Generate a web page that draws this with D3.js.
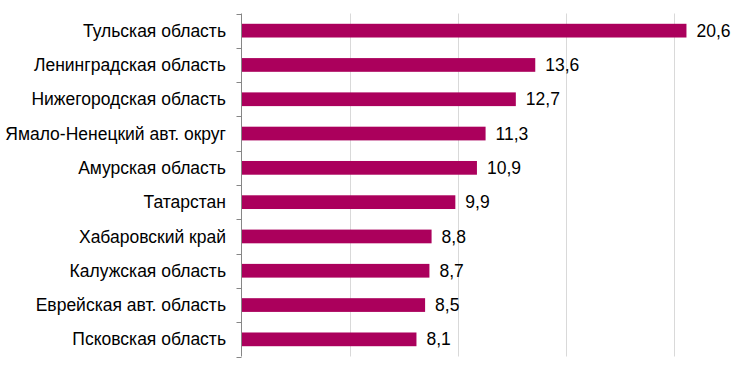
<!DOCTYPE html>
<html>
<head>
<meta charset="utf-8">
<script src="https://cdn.jsdelivr.net/npm/d3@7"></script>
<style>
body { margin: 0; background: #fff; }
text { font-family: "Liberation Sans", Arial, sans-serif; }
</style>
</head>
<body>
<script>
var regions = ["Тульская область", "Ленинградская область", "Нижегородская область",
  "Ямало-Ненецкий авт. округ", "Амурская область", "Татарстан", "Хабаровский край",
  "Калужская область", "Еврейская авт. область", "Псковская область"];
var values = [20.6, 13.6, 12.7, 11.3, 10.9, 9.9, 8.8, 8.7, 8.5, 8.1];
var gridTicks = [5, 10, 15, 20];

var width = 744,
    height = 370;

var svg = d3.select("body").append("svg")
    .attr("width", width)
    .attr("height", height);

var x = d3.scaleLinear()
    .domain([0, 25])
    .range([241.5, 781.5]);

var y = d3.scaleBand()
    .domain(regions)
    .range([13.5, 356.5])
    .paddingInner(0.6)
    .paddingOuter(0.3);

var y0 = d3.scaleBand()
    .domain(regions)
    .range([13.5, 356.5]);

// gridlines
svg.selectAll(".grid")
    .data(gridTicks).enter()
    .append("line")
    .attr("x1", function(d){ return Math.round(x(d)) + 0.5; })
    .attr("x2", function(d){ return Math.round(x(d)) + 0.5; })
    .attr("y1", 13.5)
    .attr("y2", 356.5)
    .attr("stroke", "#d9d9d9")
    .attr("stroke-width", 1);

// bars
svg.selectAll("rect")
    .data(values).enter()
    .append("rect")
    .attr("x", x(0))
    .attr("y", function(d, i){ return y(regions[i]); })
    .attr("width", function(d){ return x(d) - x(0); })
    .attr("height", y.bandwidth())
    .attr("fill", "#ab005c");

// left axis
svg.append("line")
    .attr("x1", 241.5).attr("x2", 241.5)
    .attr("y1", 13.5).attr("y2", 356.5)
    .attr("stroke", "#868686");

var bounds = regions.map(function(r){ return y0(r); }).concat([356.5]);
svg.selectAll(".tick")
    .data(bounds).enter()
    .append("line")
    .attr("x1", 236.5).attr("x2", 241.5)
    .attr("y1", function(d){ return Math.round(d) + 0.5; })
    .attr("y2", function(d){ return Math.round(d) + 0.5; })
    .attr("stroke", "#868686");

// category labels
svg.selectAll(".cat")
    .data(regions).enter()
    .append("text")
    .attr("x", 226)
    .attr("y", function(d){ return y0(d) + y0.bandwidth() / 2; })
    .attr("dy", "0.35em")
    .attr("text-anchor", "end")
    .attr("font-size", "17.5px")
    .attr("fill", "#000")
    .text(function(d){ return d; });

// value labels
svg.selectAll(".val")
    .data(values).enter()
    .append("text")
    .attr("x", function(d){ return x(d) + 10; })
    .attr("y", function(d, i){ return y0(regions[i]) + y0.bandwidth() / 2; })
    .attr("dy", "0.35em")
    .attr("font-size", "17.5px")
    .attr("fill", "#000")
    .text(function(d){ return d.toFixed(1).replace(".", ","); });
</script>
</body>
</html>
